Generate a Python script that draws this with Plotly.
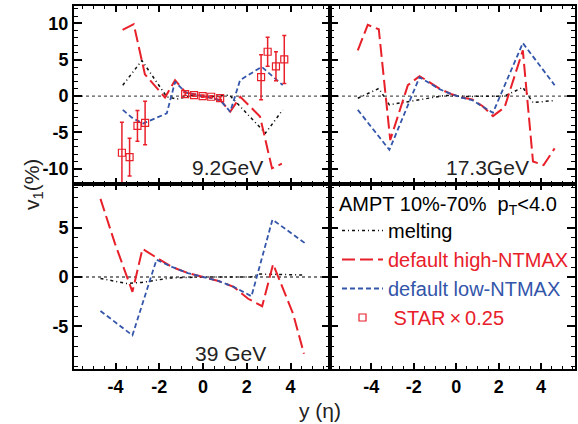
import plotly.graph_objects as go

# ---------------- data ----------------
# 9.2 GeV
x_92_high = [-3.68, -3.17, -2.66, -1.74, -1.28, -0.8, -0.25, 0.25, 0.8, 1.24, 1.7, 2.6, 3.15, 3.6]
y_92_high = [9.1, 9.9, 3.0, -0.2, 2.2, 0.5, 0.15, -0.15, -0.6, -2.15, -0.1, -2.8, -9.95, -9.3]
x_92_low = [-3.67, -3.2, -2.73, -1.66, -1.28, -0.8, -0.25, 0.25, 0.8, 1.24, 1.69, 2.68, 3.64]
y_92_low = [-1.9, -3.1, -3.76, -2.38, 1.97, 0.5, 0.15, -0.15, -0.6, -2.15, 2.2, 4.03, 1.5]
x_92_melt = [-3.67, -2.8, -1.66, -1.2, -0.5, 0.0, 0.5, 1.2, 2.85, 3.64]
y_92_melt = [1.5, 4.9, -0.1, -0.4, 0.1, 0.0, -0.05, 0.15, -5.1, -1.9]
x_star = [-3.71, -3.36, -3.0, -2.65, -0.82, -0.41, -0.02, 0.37, 0.78, 2.65, 2.95, 3.33, 3.71]
y_star = [-7.8, -8.4, -4.1, -3.7, 0.28, 0.14, 0.0, -0.09, -0.28, 2.6, 6.1, 4.1, 5.05]
e_star = [4.2, 2.6, 2.1, 3.0, 0.2, 0.15, 0.15, 0.15, 0.2, 3.1, 2.0, 2.0, 3.3]

# 17.3 GeV
x_173_high = [-4.64, -4.17, -3.65, -3.11, -2.28, -1.73, -1.25, -0.75, -0.25, 0.25, 0.75, 1.25, 1.73, 2.28, 3.14, 3.62, 4.12, 4.64]
y_173_high = [6.3, 9.8, 9.2, -6.05, 1.5, 2.75, 1.9, 0.95, 0.3, -0.2, -0.45, -1.4, -2.75, -1.55, 6.3, -9.0, -9.5, -7.2]
x_173_low = [-4.64, -3.15, -1.73, -1.25, -0.75, -0.25, 0.25, 0.75, 1.25, 1.73, 3.14, 4.64]
y_173_low = [-1.9, -7.4, 2.6, 1.8, 0.9, 0.3, -0.2, -0.55, -1.4, -2.3, 7.3, 1.5]
x_173_melt = [-4.64, -3.65, -3.15, -0.5, 0.0, 0.5, 2.28, 3.14, 3.62, 4.64]
y_173_melt = [-0.3, 1.05, -1.2, 0.1, 0.0, -0.05, 0.0, 1.2, -0.9, -0.6]

# 39 GeV
x_39_high = [-4.69, -4.03, -3.23, -2.77, -1.98, -1.4, -0.7, 0.0, 0.7, 1.4, 2.06, 2.7, 3.2, 4.11, 4.61]
y_39_high = [7.9, 3.4, -1.5, 2.85, 1.75, 1.0, 0.4, 0.0, -0.4, -1.0, -2.2, -2.95, 1.3, -3.7, -7.75]
x_39_low = [-4.69, -3.23, -2.13, -1.4, -0.7, 0.0, 0.7, 1.4, 2.21, 3.17, 4.64]
y_39_low = [-3.43, -5.9, 1.75, 1.0, 0.4, 0.0, -0.4, -1.0, -1.95, 5.8, 3.45]
x_39_melt = [-4.69, -3.5, -2.8, -1.5, 0.0, 1.5, 2.2, 2.6, 3.3, 4.64]
y_39_melt = [-0.15, -0.65, -0.55, -0.1, 0.0, 0.05, 0.0, 0.3, 0.25, 0.2]

panel_labels = ["9.2GeV", "17.3GeV", "39 GeV"]
x_ticks = [-4, -2, 0, 2, 4]

RED = "#e8202a"
BLUE = "#3355aa"
BLACK = "#111111"
FONT = "Liberation Sans"

style = {
    "melt": dict(color=BLACK, width=1.5, dash="3px,3px,1px,3px"),
    "high": dict(color=RED, width=2, dash="13px,5px"),
    "low": dict(color=BLUE, width=1.8, dash="5px,3px"),
}
names = {
    "melt": "melting",
    "high": '<span style="color:%s">default high-NTMAX</span>' % RED,
    "low": '<span style="color:%s">default low-NTMAX</span>' % BLUE,
}

fig = go.Figure()

panels = [
    ("x", "y", {"melt": (x_92_melt, y_92_melt), "high": (x_92_high, y_92_high), "low": (x_92_low, y_92_low)}),
    ("x2", "y2", {"melt": (x_173_melt, y_173_melt), "high": (x_173_high, y_173_high), "low": (x_173_low, y_173_low)}),
    ("x3", "y3", {"melt": (x_39_melt, y_39_melt), "high": (x_39_high, y_39_high), "low": (x_39_low, y_39_low)}),
]

for i, (xa, ya, series) in enumerate(panels):
    for key in ["melt", "high", "low"]:
        xs, ys = series[key]
        fig.add_trace(go.Scatter(
            x=xs, y=ys, mode="lines", line=style[key], name=names[key],
            xaxis=xa, yaxis=ya, showlegend=(i == 0), legendrank=["melt", "high", "low"].index(key) + 1,
        ))
    if i == 0:
        fig.add_trace(go.Scatter(
            x=x_star, y=y_star, mode="markers", xaxis=xa, yaxis=ya,
            marker=dict(symbol="square-open", size=7, color=RED, line=dict(width=1.2, color=RED)),
            error_y=dict(type="data", array=e_star, color=RED, thickness=1.5, width=2),
            name='<span style="color:%s"> STAR\u2009\u00d7\u20090.25</span>' % RED, legendrank=4,
        ))

# ---------------- layout ----------------
W, H = 578, 424
xl = [74 / W, 330 / W]
xr = [330 / W, 575 / W]
yt = [(H - 184) / H, (H - 6) / H]
yb = [(H - 369) / H, (H - 184) / H]

tickfont = dict(family=FONT, size=18, color="black", weight="bold")

def xaxis(domain, anchor, rng, labels):
    return dict(domain=domain, anchor=anchor, range=rng, showline=True, linecolor="black", linewidth=2,
                mirror="allticks", ticks="inside", ticklen=6, tickwidth=1.5, tickcolor="black",
                tickmode="array", tickvals=x_ticks, ticktext=[str(v) for v in x_ticks],
                showticklabels=labels, tickfont=tickfont, showgrid=False, zeroline=False,
                minor=dict(ticks="inside", ticklen=3, dtick=0.5, tick0=0, tickcolor="black", tickwidth=1, showgrid=False))

def yaxis(domain, anchor, rng, vals, labels):
    return dict(domain=domain, anchor=anchor, range=rng, showline=True, linecolor="black", linewidth=2,
                mirror="allticks", ticks="inside", ticklen=8, tickwidth=1.5, tickcolor="black",
                tickmode="array", tickvals=vals, ticktext=[str(v) for v in vals],
                showticklabels=labels, tickfont=tickfont, showgrid=False, zeroline=False,
                minor=dict(ticks="inside", ticklen=4, dtick=1, tick0=0, tickcolor="black", tickwidth=1, showgrid=False))

top_vals = [-10, -5, 0, 5, 10]
bot_vals = [-5, 0, 5]
top_rng = [-12.1, 12.4]
bot_rng = [-9.3, 9.4]
lx_rng = [-5.9, 5.8]
rx_rng = [-5.95, 5.6]

fig.update_layout(
    width=W, height=H, margin=dict(l=0, r=0, t=0, b=0),
    paper_bgcolor="white", plot_bgcolor="white",
    font=dict(family=FONT, color="black"),
    xaxis=xaxis(xl, "y", lx_rng, False),
    yaxis=yaxis(yt, "x", top_rng, top_vals, True),
    xaxis2=xaxis(xr, "y2", rx_rng, False),
    yaxis2=yaxis(yt, "x2", top_rng, top_vals, False),
    xaxis3=xaxis(xl, "y3", lx_rng, True),
    yaxis3=yaxis(yb, "x3", bot_rng, bot_vals, True),
    xaxis4=xaxis(xr, "y4", rx_rng, True),
    yaxis4=yaxis(yb, "x4", bot_rng, bot_vals, False),
    showlegend=True,
    legend=dict(x=337 / W, y=(H - 185) / H, xanchor="left", yanchor="top",
                bgcolor="rgba(0,0,0,0)", borderwidth=0, itemwidth=41,
                font=dict(family=FONT, size=20, color="black"),
                title=dict(text="AMPT 10%-70%  p<sub>T</sub><4.0", font=dict(family=FONT, size=20, color="black")),
                traceorder="normal"),
)

# dummy trace so that the 4th axes pair is drawn
fig.add_trace(go.Scatter(x=[None], y=[None], xaxis="x4", yaxis="y4", showlegend=False, hoverinfo="skip"))

# zero reference lines
for xa, ya in [("x", "y"), ("x2", "y2"), ("x3", "y3")]:
    fig.add_shape(type="line", xref=xa + " domain", x0=0, x1=1, yref=ya, y0=0, y1=0,
                  line=dict(color="#555555", width=1.3, dash="3px,3px"), layer="below")

# panel labels
for (xa, ya), txt, px, py in [(("x", "y"), panel_labels[0], 0.60, 0.09),
                             (("x2", "y2"), panel_labels[1], 0.643, 0.09),
                             (("x3", "y3"), panel_labels[2], 0.613, 0.086)]:
    fig.add_annotation(xref=xa + " domain", yref=ya + " domain", x=px, y=py, text=txt, showarrow=False,
                       font=dict(family=FONT, size=21, color="#222222"), xanchor="center", yanchor="middle")

# axis titles
fig.add_annotation(xref="paper", yref="paper", x=18 / W, y=(H - 185) / H, text="v<sub>1</sub>(%)",
                   textangle=-90, showarrow=False, font=dict(family=FONT, size=21, color="#222222"))
fig.add_annotation(xref="paper", yref="paper", x=320 / W, y=0, yanchor="bottom", text="y (\u03b7)",
                   showarrow=False, font=dict(family=FONT, size=21, color="#222222"))

fig.write_html("out.html")
